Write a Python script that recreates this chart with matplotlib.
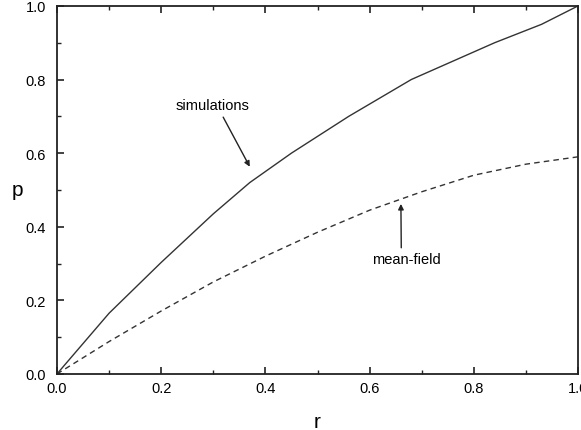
import matplotlib
matplotlib.use("Agg")
import matplotlib.pyplot as plt
from matplotlib.ticker import MultipleLocator

plt.rcParams['font.family'] = ['Liberation Sans', 'DejaVu Sans']

# simulations curve
sim_r = [0.0, 0.1, 0.2, 0.3, 0.37, 0.45, 0.56, 0.68, 0.84, 0.93, 1.0]
sim_p = [0.0, 0.165, 0.303, 0.435, 0.52, 0.60, 0.70, 0.80, 0.90, 0.95, 1.0]

# mean-field curve
mf_r = [0.0, 0.1, 0.2, 0.3, 0.4, 0.5, 0.6, 0.7, 0.8, 0.9, 1.0]
mf_p = [0.0, 0.088, 0.171, 0.25, 0.32, 0.385, 0.445, 0.495, 0.54, 0.57, 0.59]

fig = plt.figure(figsize=(5.81, 4.31), dpi=100)
ax = fig.add_axes([0.098, 0.130, 0.897, 0.854])

ax.plot(sim_r, sim_p, color="#333333", lw=1.0)
ax.plot(mf_r, mf_p, color="#333333", lw=1.0, ls=(0, (4, 3)))

ax.set_xlim(0, 1)
ax.set_ylim(0, 1)
ax.xaxis.set_major_locator(MultipleLocator(0.2))
ax.xaxis.set_minor_locator(MultipleLocator(0.1))
ax.yaxis.set_major_locator(MultipleLocator(0.2))
ax.yaxis.set_minor_locator(MultipleLocator(0.1))
ax.tick_params(which="both", direction="in", top=True, right=False, labelsize=10.5, color="#222222")
ax.tick_params(which="major", length=5, width=1.2)
ax.tick_params(which="minor", length=3, width=1.0)
ax.tick_params(axis="y", pad=8)
ax.tick_params(axis="x", pad=5)
for s in ax.spines.values():
  s.set_linewidth(1.3)
  s.set_color("#222222")

ax.set_xlabel("r", fontsize=15, labelpad=12)
ax.set_ylabel("p", fontsize=15, rotation=0, labelpad=6, va="center")

ax.annotate("simulations", xy=(0.37, 0.563), xytext=(0.298, 0.731),
            ha="center", va="center", fontsize=10.5,
            arrowprops=dict(arrowstyle="-|>", color="#222222", lw=1.0, mutation_scale=8, shrinkA=2, shrinkB=0,
                            relpos=(0.61, 0.0)))
ax.annotate("mean-field", xy=(0.66, 0.462), xytext=(0.67, 0.3125),
            ha="center", va="center", fontsize=10.5,
            arrowprops=dict(arrowstyle="-|>", color="#222222", lw=1.0, mutation_scale=8, shrinkA=1, shrinkB=0,
                            relpos=(0.43, 1.0)))

fig.savefig("out.png", dpi=100)
